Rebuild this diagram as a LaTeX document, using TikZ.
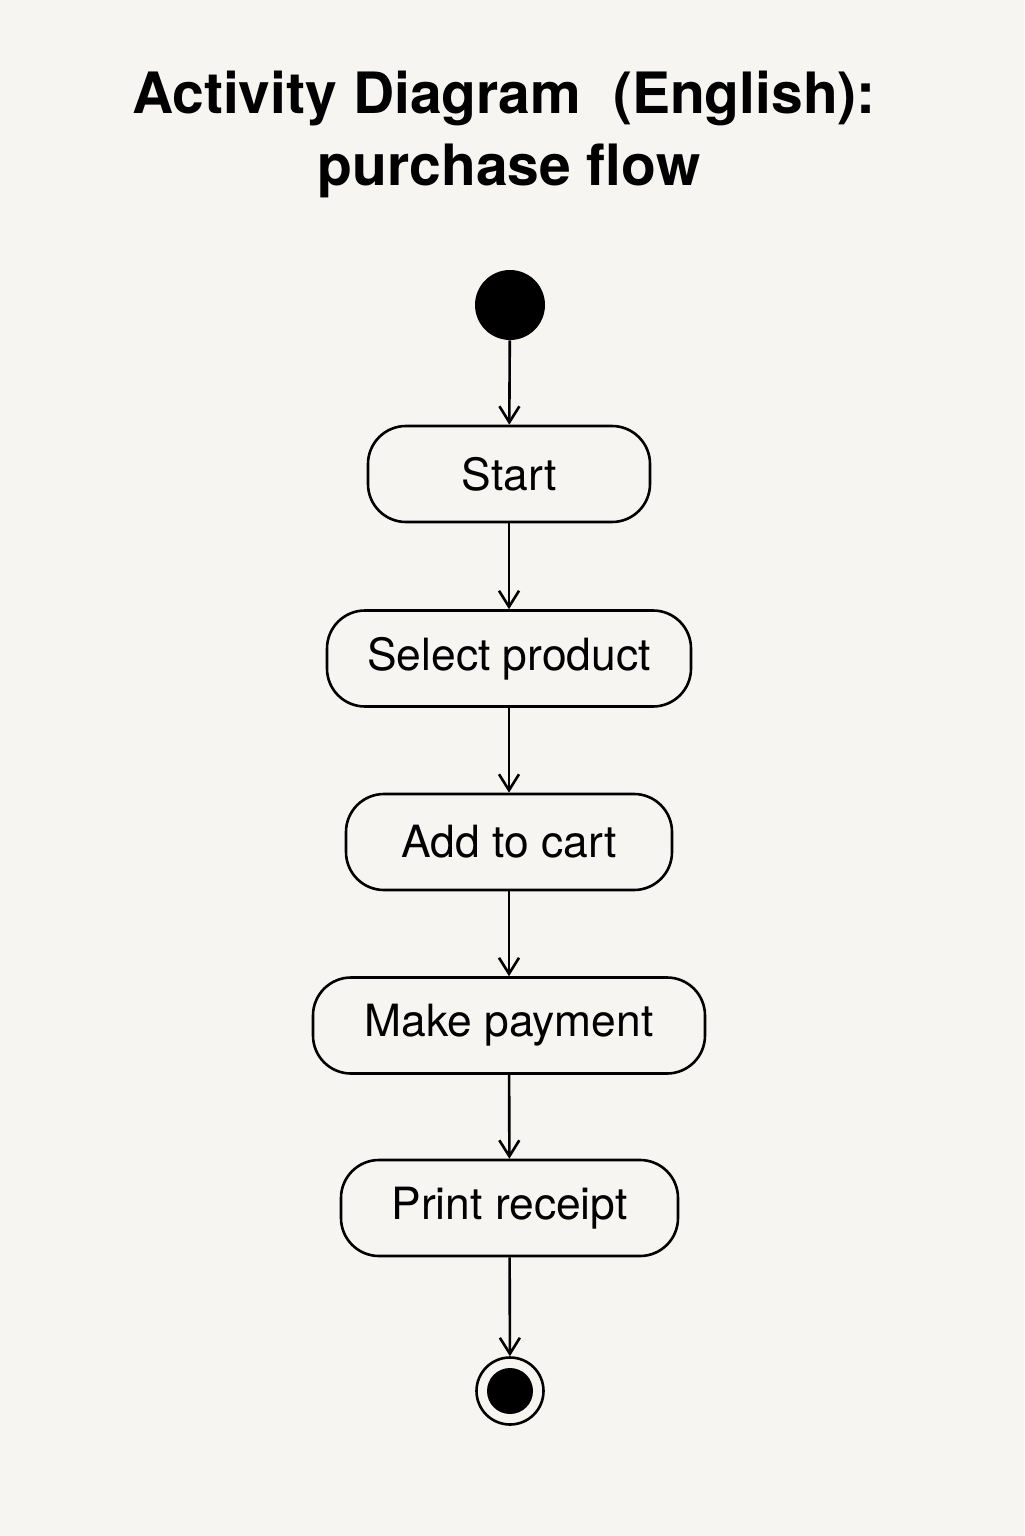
\documentclass[tikz,border=0pt]{standalone}
\usepackage{fontspec}
\setmainfont{TeX Gyre Heros}
\usepackage{xcolor}
\usepackage{tikz}
\usetikzlibrary{positioning, shapes, arrows.meta}

\definecolor{paper}{RGB}{246,245,241}

\begin{document}
\begin{tikzpicture}[x=0.5pt, y=-0.5pt,
    activity/.style={draw, line width=1.3pt, rounded corners=19pt,
      minimum height=48pt, inner sep=0pt, font=\fontsize{22.2}{25}\selectfont},
    flow/.style={-{Straight Barb[length=8pt, width=10pt]}, line width=1.3pt},
    titletext/.style={anchor=base, font=\fontsize{28.5}{34}\selectfont\bfseries}]
      % Background
      \fill[paper] (0,0) rectangle (1024,1536);
      \useasboundingbox (0,0) rectangle (1024,1536);

      % Title
      \node[titletext] (title) at (504,113) {Activity Diagram\ \ (English):};
      \node[titletext] (subtitle) at (509,185) {purchase flow};

      % Initial node
      \node[circle, fill=black, minimum size=35pt, inner sep=0pt] (init) at (510,305) {};

      % Activities
      \node[activity, minimum width=141pt] (start) at (509,474) {Start};
      \node[activity, minimum width=182pt] (select) at (509,658.5) {Select product};
      \node[activity, minimum width=163pt] (cart) at (509,842) {Add to cart};
      \node[activity, minimum width=196pt] (pay) at (509,1025.5) {Make payment};
      \node[activity, minimum width=168.5pt] (receipt) at (509.5,1208) {Print receipt};

      % Final node
      \node[circle, draw, line width=1.3pt, minimum size=33.5pt, inner sep=0pt] (final) at (510,1391) {};
      \node[circle, fill=black, minimum size=23pt, inner sep=0pt] (finaldot) at (final) {};

      % Flows
      \draw[flow] (init) -- (start);
      \draw[flow] (start) -- (select);
      \draw[flow] (select) -- (cart);
      \draw[flow] (cart) -- (pay);
      \draw[flow] (pay) -- (receipt);
      \draw[flow] (receipt) -- (final);
    \end{tikzpicture}
\end{document}
